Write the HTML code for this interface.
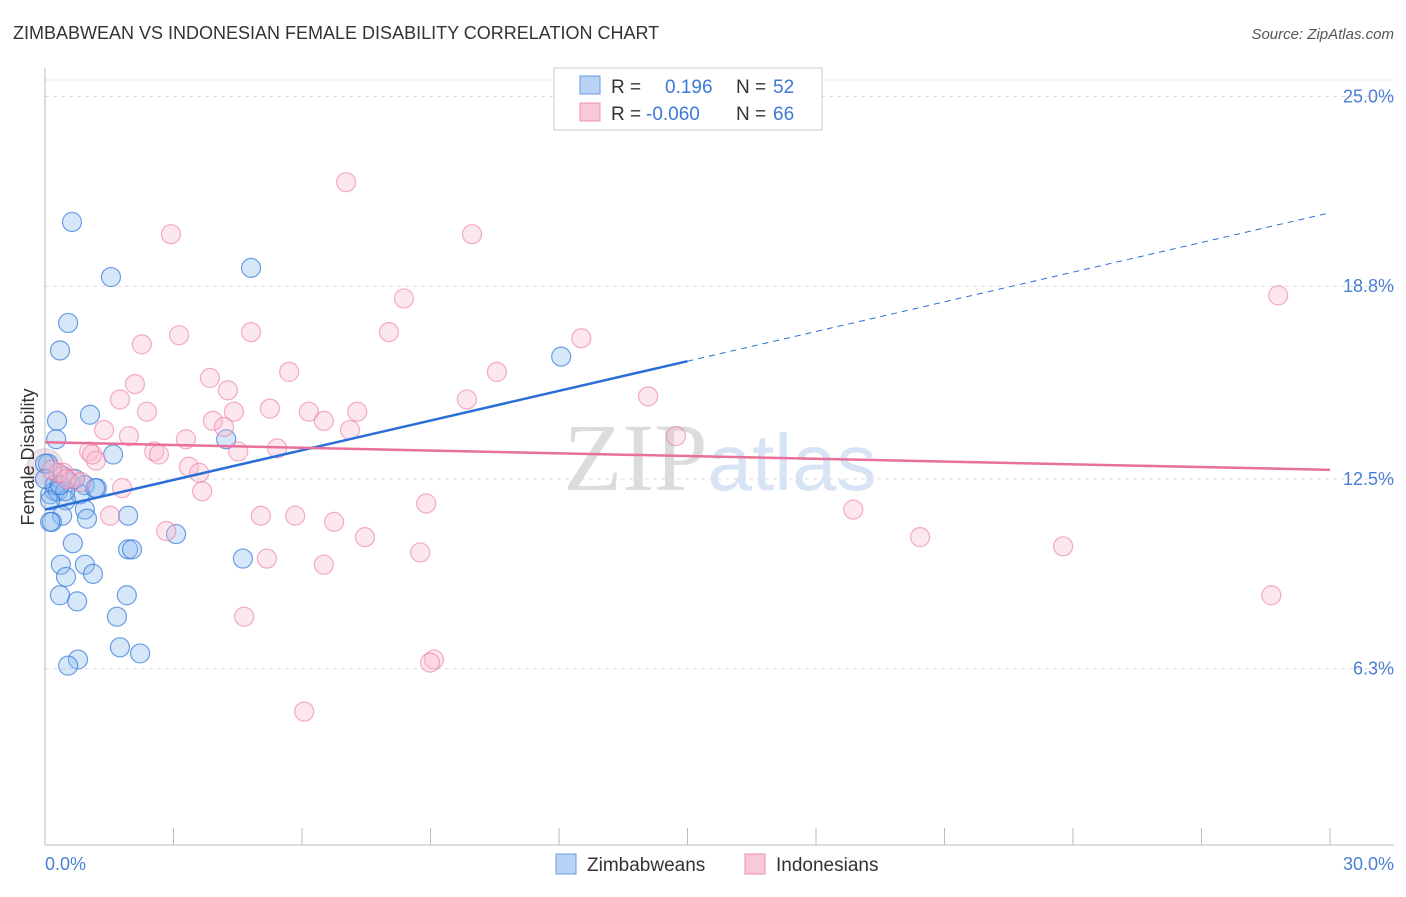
<!DOCTYPE html>
<html><head><meta charset="utf-8"><style>
body{margin:0;background:#fff;font-family:"Liberation Sans",sans-serif;}
svg text{font-family:"Liberation Sans",sans-serif;}
</style></head><body>
<svg id="chart" width="1406" height="892" xmlns="http://www.w3.org/2000/svg">
<text x="13" y="39" font-size="18" fill="#333">ZIMBABWEAN VS INDONESIAN FEMALE DISABILITY CORRELATION CHART</text>
<text x="1394" y="39" font-size="15" fill="#555" text-anchor="end" font-style="italic">Source: ZipAtlas.com</text>
<text x="720" y="490" font-size="96" text-anchor="middle" fill="#e4e4e4"><tspan font-family="Liberation Serif" fill="#dcdcdc">ZIP</tspan><tspan fill="#d6e4f5" font-size="80">atlas</tspan></text>
<g id="grid"></g>
<g id="axes"></g>
<g id="marks"></g>
<text transform="translate(34,457) rotate(-90)" font-size="18" fill="#333" text-anchor="middle">Female Disability</text>
<text x="45" y="870" font-size="18" fill="#4a7fd4">0.0%</text>
<text x="1394" y="870" font-size="18" fill="#4a7fd4" text-anchor="end">30.0%</text>
<g>
<rect x="554" y="68" width="268" height="62" fill="#fff" stroke="#ccc"/>
<rect x="580" y="76" width="20" height="18" fill="#b8d3f5" stroke="#6a9be0"/>
<rect x="580" y="103" width="20" height="18" fill="#f9c9d8" stroke="#eb93b1"/>
<text x="611" y="93" font-size="19" fill="#333">R = </text><text x="665" y="93" font-size="19" fill="#3b78d8">0.196</text>
<text x="736" y="93" font-size="19" fill="#333">N = </text><text x="773" y="93" font-size="19" fill="#3b78d8">52</text>
<text x="611" y="120" font-size="19" fill="#333">R = </text><text x="646" y="120" font-size="19" fill="#3b78d8">-0.060</text>
<text x="736" y="120" font-size="19" fill="#333">N = </text><text x="773" y="120" font-size="19" fill="#3b78d8">66</text>
</g>
<g>
<rect x="556" y="854" width="20" height="20" fill="#b8d3f5" stroke="#6a9be0"/>
<text x="587" y="871" font-size="19" fill="#333">Zimbabweans</text>
<rect x="745" y="854" width="20" height="20" fill="#f9c9d8" stroke="#eb93b1"/>
<text x="776" y="871" font-size="19" fill="#333">Indonesians</text>
</g>
</svg>
<script>
const yTicks=[25.0,18.8,12.5,6.3];
const yTickLabels=["25.0%","18.8%","12.5%","6.3%"];
const xTicks=[0,3,6,9,12,15,18,21,24,27,30];
const blueX=[0.63,1.54,4.81,0.54,0.35,12.05,0.28,1.05,0.26,4.23,1.59,0.07,0.42,0.93,1.21,0.23,0.12,0.30,0.82,0.49,0.93,0.40,0.98,1.94,0.16,0.12,0.65,1.94,2.03,3.06,4.62,0.37,0.93,1.12,0.49,1.91,0.35,0.75,1.68,1.75,2.22,0.77,0.54,0,0.23,0.58,0,1.17,0.12,0.47,0.70,0.35];
const blueY=[20.9,19.1,19.4,17.6,16.7,16.5,14.4,14.6,13.8,13.8,13.3,13.0,12.6,12.3,12.2,12.1,12.0,12.1,12.0,11.8,11.5,11.3,11.2,11.3,11.1,11.1,10.4,10.2,10.2,10.7,9.9,9.7,9.7,9.4,9.3,8.7,8.7,8.5,8.0,7.0,6.8,6.6,6.4,13.0,12.3,12.4,12.5,12.2,11.8,12.1,12.5,12.3];
const pinkX=[7.03,2.94,9.97,8.38,28.79,4.81,3.13,8.03,2.26,12.52,5.70,10.55,3.85,2.10,4.27,1.75,9.85,14.08,5.25,2.38,4.41,6.16,7.29,3.92,4.18,6.51,7.12,1.38,1.96,3.29,14.73,1.03,2.55,4.51,5.42,2.66,1.19,3.36,3.60,0.44,0.63,0.30,0.84,1.80,3.67,8.90,18.87,5.04,5.84,1.52,2.83,6.75,7.47,20.43,23.77,5.18,8.76,6.51,28.63,4.65,9.08,8.99,6.05,0.16,0.49,1.10];
const pinkY=[22.2,20.5,20.5,18.4,18.5,17.3,17.2,17.3,16.9,17.1,16.0,16.0,15.8,15.6,15.4,15.1,15.1,15.2,14.8,14.7,14.7,14.7,14.7,14.4,14.2,14.4,14.1,14.1,13.9,13.8,13.9,13.4,13.4,13.4,13.5,13.3,13.1,12.9,12.7,12.7,12.5,12.7,12.4,12.2,12.1,11.7,11.5,11.3,11.3,11.3,10.8,11.1,10.6,10.6,10.3,9.9,10.1,9.7,8.7,8.0,6.6,6.5,4.9,12.8,12.5,13.3];
const blueTrend=[11.5,21.2];
const pinkTrend=[13.7,12.8];
const NS="http://www.w3.org/2000/svg";
const X=v=>45+v/30*1285;
const Y=v=>861.5-v*30.6;
function mk(t,a,p){const e=document.createElementNS(NS,t);for(const k in a)e.setAttribute(k,a[k]);p.appendChild(e);return e;}
const grid=document.getElementById('grid'),axes=document.getElementById('axes'),marks=document.getElementById('marks');
const topLine=mk('line',{x1:45,x2:1394,y1:80,y2:80,stroke:'#ddd','stroke-dasharray':'4,4'},grid);


yTicks.forEach((t,i)=>{
 const g=mk('line',{x1:45,x2:1394,y1:Y(t),y2:Y(t),stroke:'#ddd','stroke-dasharray':'4,4'},grid);
 
 
 const l=mk('text',{x:1394,y:Y(t)+6,'font-size':18,fill:'#4a7fd4','text-anchor':'end'},axes);
 l.textContent=yTickLabels[i];
 
 
});
const ya=mk('line',{x1:45,x2:45,y1:68,y2:845,stroke:'#bbb'},axes);


const xa=mk('line',{x1:45,x2:1394,y1:845,y2:845,stroke:'#bbb'},axes);


xTicks.forEach(t=>{
 const k=mk('line',{x1:X(t),x2:X(t),y1:828,y2:845,stroke:'#bbb'},axes);
 
 
});
const big=mk('circle',{cx:X(0),cy:Y(12.9),r:18,fill:'rgba(200,170,190,0.35)',stroke:'rgba(180,160,200,0.4)'},marks);


blueX.forEach((x,i)=>{
 const c=mk('circle',{cx:X(x),cy:Y(blueY[i]),r:9.5,fill:'rgba(140,185,240,0.35)',stroke:'rgba(50,120,215,0.7)','stroke-width':1.2},marks);
 
 
});
pinkX.forEach((x,i)=>{
 const c=mk('circle',{cx:X(x),cy:Y(pinkY[i]),r:9.5,fill:'rgba(248,185,205,0.35)',stroke:'rgba(235,120,160,0.6)','stroke-width':1.2},marks);
 
 
});
const bm=blueTrend[0]+(blueTrend[1]-blueTrend[0])*0.5;
const b1=mk('line',{x1:X(0),y1:Y(blueTrend[0]),x2:X(15),y2:Y(bm),stroke:'#2a6fd6','stroke-width':2.5},marks);


const b2=mk('line',{x1:X(15),y1:Y(bm),x2:X(30),y2:Y(blueTrend[1]),stroke:'#2a6fd6','stroke-width':1,'stroke-dasharray':'6,5'},marks);


const p1=mk('line',{x1:X(0),y1:Y(pinkTrend[0]),x2:X(30),y2:Y(pinkTrend[1]),stroke:'#e8709a','stroke-width':2.5},marks);


</script>
</body></html>
